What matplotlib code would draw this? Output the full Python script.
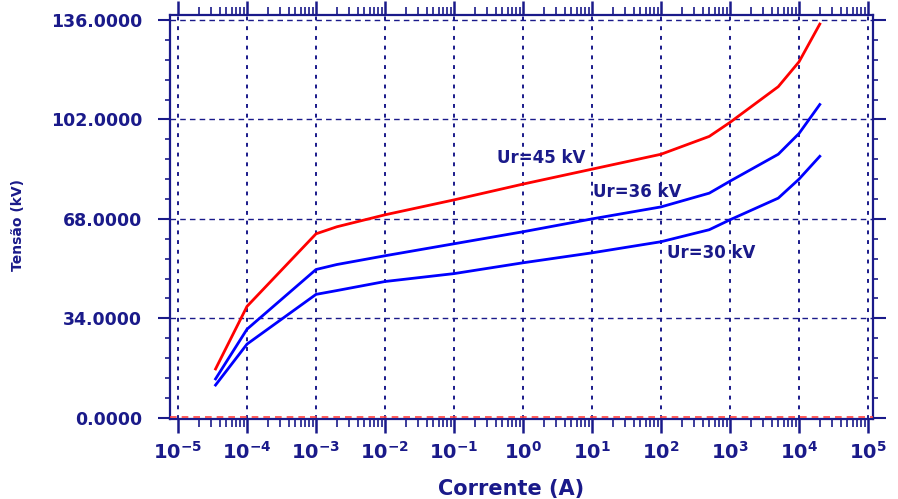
import numpy as np
import matplotlib
matplotlib.use("Agg")
import matplotlib.pyplot as plt
from matplotlib.ticker import FixedLocator, NullFormatter, MultipleLocator

# ---- data ----
current_45 = [3.5e-5, 1e-4, 1e-3, 2e-3, 1e-2, 1e-1, 1, 10, 100, 500, 1000, 5000, 10000, 20000]
voltage_45 = [16.7, 38.1, 62.9, 65.3, 69.4, 74.5, 79.9, 85.0, 90.1, 96.2, 101.0, 113.2, 121.7, 134.6]

current_36 = [3.5e-5, 1e-4, 1e-3, 2e-3, 1e-2, 1e-1, 1, 10, 100, 500, 1000, 5000, 10000, 20000]
voltage_36 = [13.3, 30.3, 50.7, 52.4, 55.4, 59.5, 63.6, 68.0, 72.1, 76.8, 80.9, 90.1, 97.2, 107.1]

current_30 = [3.5e-5, 1e-4, 1e-3, 2e-3, 1e-2, 1e-1, 1, 10, 100, 500, 1000, 5000, 10000, 20000]
voltage_30 = [11.2, 25.2, 42.2, 43.5, 46.6, 49.3, 53.0, 56.4, 60.2, 64.3, 67.7, 75.1, 81.6, 89.4]

y_ticks = [0, 34, 68, 102, 136]
y_tick_labels = ["0.0000", "34.0000", "68.0000", "102.0000", "136.0000"]
x_exponents = [-5, -4, -3, -2, -1, 0, 1, 2, 3, 4, 5]

labels = ["Ur=45 kV", "Ur=36 kV", "Ur=30 kV"]
label_pos = [(10 ** -0.37, 88.7), (10 ** 1.01, 77.2), (10 ** 2.08, 56.4)]

NAVY = "#1a1a8a"

fig = plt.figure(figsize=(8.98, 4.99), dpi=100)
ax = fig.add_axes([170 / 898, 1 - 419 / 499, 703 / 898, 404 / 499])

ax.set_xscale("log")
ax.set_xlim(10 ** -5.116, 10 ** 5.072)
ax.set_ylim(-0.4, 137.7)

# grid
for e in x_exponents:
    ax.axvline(10.0 ** e, color=NAVY, lw=1.4, ls=(0, (2, 3)), zorder=1)
for yv in y_ticks[1:]:
    ax.axhline(yv, color=NAVY, lw=1.0, ls=(0, (4, 3)), zorder=1)
ax.axhline(0.35, color="#ff4040", lw=1.2, ls=(0, (4, 3)), zorder=3)

ax.plot(current_45, voltage_45, color="#ff0000", lw=2.0, zorder=4)
ax.plot(current_36, voltage_36, color="#0000ff", lw=2.0, zorder=4)
ax.plot(current_30, voltage_30, color="#0000ff", lw=2.0, zorder=4)

for txt, (xx, yy) in zip(labels, label_pos):
    ax.text(xx, yy, txt, color=NAVY, fontsize=12, fontweight="bold",
            ha="left", va="center", zorder=5)

# ticks
ax.xaxis.set_major_locator(FixedLocator([10.0 ** e for e in x_exponents]))
minor_x = [m * 10.0 ** e for e in x_exponents[:-1] for m in range(2, 10)]
ax.xaxis.set_minor_locator(FixedLocator(minor_x))
ax.xaxis.set_minor_formatter(NullFormatter())
ax.set_xticklabels([r"$\mathbf{10^{%d}}$" % e for e in x_exponents])
ax.set_yticks(y_ticks)
ax.set_yticklabels(y_tick_labels)
ax.yaxis.set_minor_locator(MultipleLocator(6.8))

ax.tick_params(axis="both", which="both", direction="out", color=NAVY,
               labelcolor=NAVY, top=True, right=True, labelright=False, labeltop=False)
ax.tick_params(axis="x", which="major", length=10, width=1.8, pad=6, labelsize=14)
ax.tick_params(axis="x", which="minor", length=6, width=1.2)
ax.tick_params(axis="y", which="major", length=9, width=1.5, pad=11, labelsize=12.5)
ax.tick_params(axis="y", which="minor", length=3.5, width=1.2)
for lab in ax.get_yticklabels():
    lab.set_fontweight("bold")

for s in ax.spines.values():
    s.set_color(NAVY)
    s.set_linewidth(1.6)

ax.set_ylabel("Tensão (kV)", color=NAVY, fontsize=10, fontweight="bold", va="center")
ax.yaxis.set_label_coords(-0.216, 0.48)
ax.set_xlabel("Corrente (A)", color=NAVY, fontsize=15, fontweight="bold", va="center")
ax.xaxis.set_label_coords(0.485, -0.173)

fig.savefig("out.png", dpi=100)
